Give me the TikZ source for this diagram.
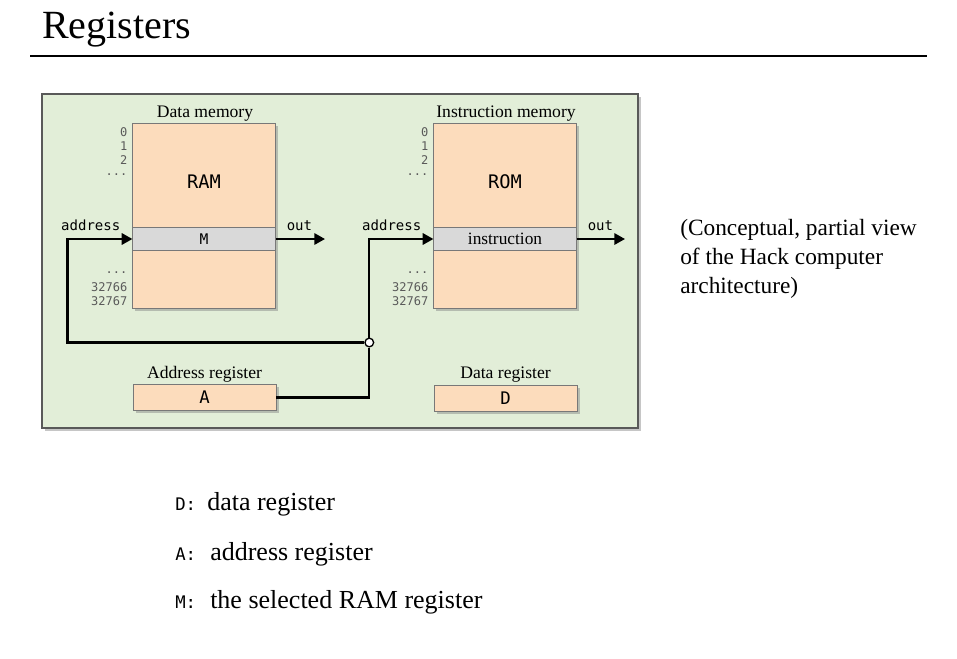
\documentclass[tikz,border=0pt]{standalone}
\usepackage{fontspec}
\setmainfont{Liberation Serif}
\setmonofont{DejaVu Sans Mono}
\usetikzlibrary{calc}
\usetikzlibrary{positioning}
\usetikzlibrary{shadows}
\usetikzlibrary{arrows.meta}
\definecolor{panelgreen}{RGB}{226,238,216}
\definecolor{chippeach}{RGB}{252,220,188}
\definecolor{bandgray}{RGB}{217,217,217}
\definecolor{edgegray}{RGB}{120,120,120}
\definecolor{addrgray}{RGB}{90,90,90}
\tikzstyle{softshadow}=[drop shadow={shadow xshift=2pt,shadow yshift=-2pt,opacity=0.45}]
\tikzstyle{panel}=[draw=black!65,line width=1.1pt,fill=panelgreen,softshadow,minimum width=447pt,minimum height=250.5pt,inner sep=0pt]
\tikzstyle{chip}=[draw=edgegray,fill=chippeach,softshadow,minimum width=107pt,minimum height=139pt,inner sep=0pt]
\tikzstyle{band}=[draw=edgegray,fill=bandgray,minimum width=107pt,minimum height=17pt,inner sep=0pt,font=\fontsize{13}{15}\selectfont]
\tikzstyle{register}=[draw=edgegray,fill=chippeach,softshadow,minimum width=107pt,minimum height=19.5pt,inner sep=0pt,font=\ttfamily\fontsize{13}{15}\selectfont]
\tikzstyle{heading}=[inner sep=0pt,anchor=base,font=\fontsize{13.2}{15}\selectfont]
\tikzstyle{chiplabel}=[inner sep=0pt,anchor=base,font=\ttfamily\fontsize{14}{16}\selectfont]
\tikzstyle{portlabel}=[inner sep=0pt,font=\ttfamily\fontsize{10.5}{12}\selectfont]
\tikzstyle{addr}=[inner sep=0pt,anchor=base east,text=addrgray,font=\ttfamily\fontsize{9}{10}\selectfont]
\tikzstyle{bus}=[line width=1.6pt]
\tikzstyle{busarrow}=[bus,-{Triangle[length=8pt,width=8.5pt]}]
\tikzstyle{junction}=[circle,draw,line width=1pt,fill=white,inner sep=0pt,minimum size=6.5pt]
\tikzstyle{listkey}=[inner sep=0pt,anchor=base west,font=\ttfamily\fontsize{13}{15}\selectfont]
\tikzstyle{listtext}=[inner sep=0pt,anchor=base west,font=\fontsize{19.5}{23}\selectfont]
\newcommand{\mdots}{...}
\newcommand{\monoband}{\ttfamily\fontsize{11}{12}\selectfont}
\newcommand{\drawaddresses}[2]{
  \pgfmathsetmacro{\xr}{#2}
  \foreach \lbl/\yb [count=\i] in {0/136,1/150,2/164.5,\mdots/175.5,\mdots/273,32766/291.5,32767/305} {
    \node[addr] (#1-\i) at (\xr,\yb) {\lbl};
  }
}
\newcommand{\drawmemory}[5]{
  \pgfmathsetmacro{\cx}{#2}
  \node[chip] (#1) at (\cx,216) {};
  \node[heading] (#1-title) at (\cx+1,117) {#3};
  \node[chiplabel] (#1-label) at (\cx,188.5) {#4};
  \node[band] (#1band) at (\cx,239) {#5};
  \node[portlabel,anchor=base east] (#1-in) at (\cx-83.5,230) {address};
  \node[portlabel,anchor=base west] (#1-out) at (\cx+82.5,230) {out};
  \drawaddresses{#1}{\cx-76.5}
}

\begin{document}
\begin{tikzpicture}[x=0.75pt,y=-0.75pt]
  \useasboundingbox (0,0) rectangle (957,658);
  % title and rule
  \node[inner sep=0pt,anchor=base west,font=\fontsize{30}{34}\selectfont] (title) at (42,38.5) {Registers};
  \coordinate (rulestart) at (30,55.5);
  \coordinate (ruleend) at (927,55.5);
  \draw[line width=1.5pt] (rulestart) -- (ruleend);
  % green panel
  \node[panel] (board) at (340,261) {};
  \drawmemory{ram}{204}{Data memory}{RAM}{\monoband M}
  \drawmemory{rom}{505}{Instruction memory}{ROM}{instruction}
  % registers
  \node[register] (areg) at (204.5,397.5) {A};
  \node[register] (dreg) at (505.5,398.5) {D};
  \node[heading,above=4pt of areg.north,anchor=base] (areg-title) {Address register};
  \node[heading,above=5pt of dreg.north,anchor=base] (dreg-title) {Data register};
  % address bus
  \node[junction] (fork) at (369.3,342.5) {};
  \coordinate (ramturn) at (67.5,342.5);
  \coordinate (ramout) at (325,239);
  \coordinate (romout) at (625,239);
  \draw[bus] (areg.east) -| (fork);
  \draw[busarrow] (fork) |- (romband.west);
  \draw[busarrow] (fork) -- (ramturn) |- (ramband.west);
  \draw[busarrow] (ramband.east) -- (ramout);
  \draw[busarrow] (romband.east) -- (romout);
  % side note
  \node[inner sep=0pt,anchor=north west,align=left,font=\fontsize{17.5}{21.75}\selectfont] (note) at (680,219) {(Conceptual, partial view\\of the Hack computer\\architecture)};
  % legend
  \node[listkey] (dkey) at (175,510) {D:};
  \node[listtext] (dtext) at (207,510) {data register};
  \node[listkey] (akey) at (175,560) {A:};
  \node[listtext] (atext) at (210,560) {address register};
  \node[listkey] (mkey) at (175,608) {M:};
  \node[listtext] (mtext) at (210,608) {the selected RAM register};
\end{tikzpicture}
\end{document}
